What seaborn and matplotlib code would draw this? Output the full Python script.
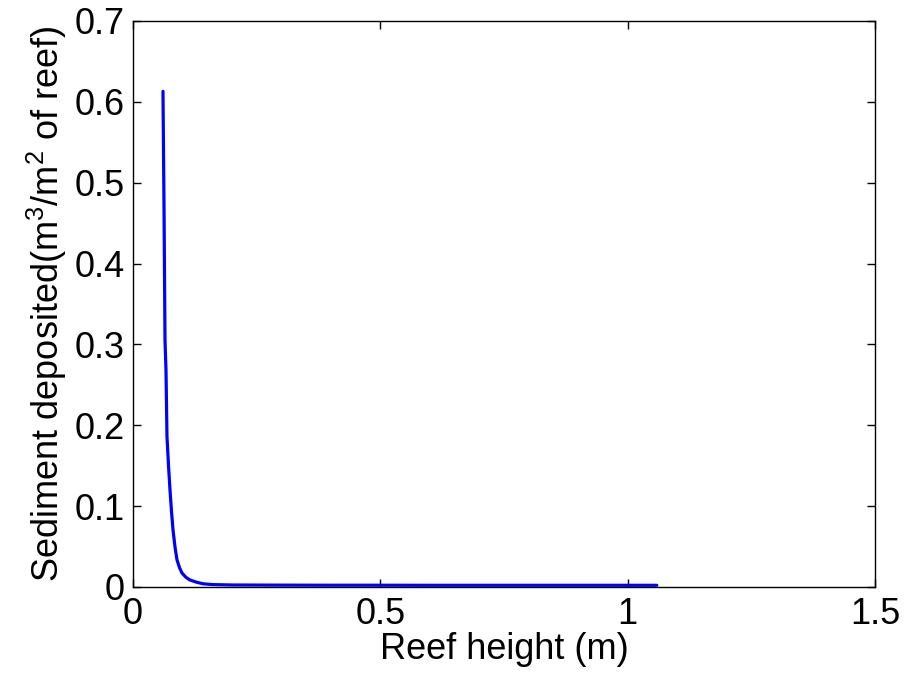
import numpy as np
import pandas as pd
import matplotlib
matplotlib.use("Agg")
import matplotlib.pyplot as plt
import seaborn as sns

# Data
reef_height = [0.0606, 0.0627, 0.0647, 0.0667, 0.0687, 0.0718, 0.0748, 0.0779, 0.0809,
               0.0850, 0.0890, 0.0940, 0.0990, 0.1070, 0.1150, 0.1280, 0.1415, 0.1600,
               0.2000, 0.3000, 0.4000, 0.5000, 0.6000, 0.7000, 0.8000, 0.9000, 1.0000, 1.0590]
sediment = [0.613, 0.470, 0.305, 0.268, 0.186, 0.150, 0.120, 0.093, 0.0705,
            0.049, 0.0334, 0.024, 0.0173, 0.012, 0.0087, 0.006, 0.0040, 0.0030,
            0.0025, 0.0023, 0.0022, 0.0022, 0.0021, 0.0021, 0.0021, 0.0021, 0.0021, 0.0021]

x_ticks = [0, 0.5, 1, 1.5]
x_tick_labels = ["0", "0.5", "1", "1.5"]
y_ticks = [0, 0.1, 0.2, 0.3, 0.4, 0.5, 0.6, 0.7]
y_tick_labels = ["0", "0.1", "0.2", "0.3", "0.4", "0.5", "0.6", "0.7"]

df = pd.DataFrame({"Reef height (m)": reef_height, "Sediment": sediment})

sns.set_theme(style="white")
plt.rcParams["font.family"] = ["Liberation Sans", "DejaVu Sans"]
plt.rcParams["mathtext.fontset"] = "custom"
plt.rcParams["mathtext.rm"] = "Liberation Sans"
plt.rcParams["mathtext.it"] = "Liberation Sans:italic"
plt.rcParams["text.color"] = "black"
plt.rcParams["axes.labelcolor"] = "black"

fig = plt.figure(figsize=(9.08, 6.73), dpi=100)
ax = fig.add_axes([133 / 908, 86 / 673, 742 / 908, 566 / 673])

sns.lineplot(data=df, x="Reef height (m)", y="Sediment", ax=ax, color="#0000ff",
             linewidth=2.3, sort=False, estimator=None)

ax.set_xlim(0, 1.5)
ax.set_ylim(0, 0.7)
ax.set_xticks(x_ticks)
ax.set_xticklabels(x_tick_labels)
ax.set_yticks(y_ticks)
ax.set_yticklabels(y_tick_labels)

ax.tick_params(axis="both", direction="in", length=6, width=1, colors="black",
               labelcolor="black", labelsize=26, top=True, right=True, bottom=True, left=True)
ax.tick_params(axis="x", pad=7)
ax.tick_params(axis="y", pad=6)

for side in ["left", "right", "top", "bottom"]:
    ax.spines[side].set_visible(True)
    ax.spines[side].set_color("black")
    ax.spines[side].set_linewidth(1)

ax.set_xlabel("Reef height (m)", fontsize=26, labelpad=0, color="black")
ax.set_ylabel("Sediment deposited(m$^3$/m$^2$ of reef)", fontsize=26, labelpad=4, color="black")
ax.grid(False)

fig.savefig("out.png", dpi=100, facecolor="white")
